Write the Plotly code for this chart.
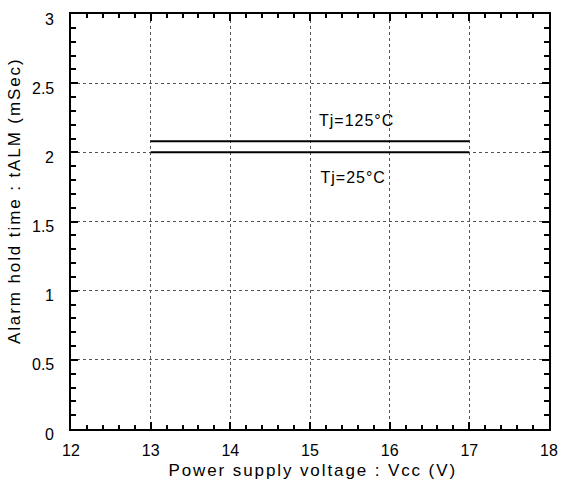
import plotly.graph_objects as go

vcc = [13, 17]
t_125 = [2.08, 2.08]
t_25 = [2.0, 2.0]
x_ticks = [12, 13, 14, 15, 16, 17, 18]
y_ticks = [0, 0.5, 1, 1.5, 2, 2.5, 3]
y_tick_text = ["0", "0.5", "1", "1.5", "2", "2.5", "3"]

FONT = "Liberation Sans, Arial, sans-serif"

fig = go.Figure()
fig.add_trace(go.Scatter(x=vcc, y=t_125, mode="lines", line=dict(color="black", width=2), showlegend=False))
fig.add_trace(go.Scatter(x=vcc, y=t_25, mode="lines", line=dict(color="black", width=2), showlegend=False))

fig.add_annotation(x=15.585, y=2.227, text="Tj=125°C", showarrow=False,
                   font=dict(family=FONT, size=16, color="black"))
fig.add_annotation(x=15.536, y=1.818, text="Tj=25°C", showarrow=False,
                   font=dict(family=FONT, size=16, color="black"))

# y tick labels (slightly below their tick, as in the reference)
for v, t in zip(y_ticks, y_tick_text):
    fig.add_annotation(x=0, xref="paper", y=v, yref="y", text=t, showarrow=False,
                       xanchor="right", yanchor="middle", xshift=-15, yshift=-5,
                       font=dict(family=FONT, size=16, color="black"))

# axis titles
fig.add_annotation(x=0.5, xref="paper", y=0, yref="paper", text="Power supply voltage : Vcc (V)",
                   showarrow=False, xanchor="center", yanchor="middle", yshift=-41, xshift=2,
                   font=dict(family=FONT, size=17, color="black"))
fig.add_annotation(x=0, xref="paper", y=0.5, yref="paper", text="Alarm hold time : tALM (mSec)",
                   showarrow=False, textangle=-90, xanchor="center", yanchor="middle",
                   xshift=-57, yshift=20,
                   font=dict(family=FONT, size=17, color="black"))

axis_common = dict(
    showline=True, linecolor="black", linewidth=2, mirror="allticks",
    ticks="inside", ticklen=7, tickwidth=1.5, tickcolor="black",
    showgrid=True, gridcolor="#555555", griddash="dot", gridwidth=1,
    zeroline=False,
    tickfont=dict(family=FONT, size=16, color="black"),
)

fig.update_xaxes(range=[12, 18], tickvals=x_ticks, ticklabelstandoff=6,
                 minor=dict(dtick=0.2, ticks="inside", ticklen=4, tickcolor="black", tickwidth=1.5, showgrid=False),
                 **axis_common)
fig.update_yaxes(range=[0, 3], tickvals=y_ticks, showticklabels=False,
                 minor=dict(dtick=0.1, ticks="inside", ticklen=5, tickcolor="black", tickwidth=1.5, showgrid=False),
                 **axis_common)

fig.update_layout(
    width=568, height=481,
    margin=dict(l=71, r=10, t=14, b=52),
    plot_bgcolor="white", paper_bgcolor="white",
)

post = """
document.body.style.margin='0';
var spacing = {'Power supply voltage : Vcc (V)':'1.9px','Alarm hold time : tALM (mSec)':'1.9px','Tj=125°C':'1px','Tj=25°C':'1px'};
document.querySelectorAll('text').forEach(function(t){
  var s = spacing[t.textContent];
  if (s) { t.style.letterSpacing = s; }
});
"""

fig.write_html("out.html", post_script=post, config={"displayModeBar": False})
